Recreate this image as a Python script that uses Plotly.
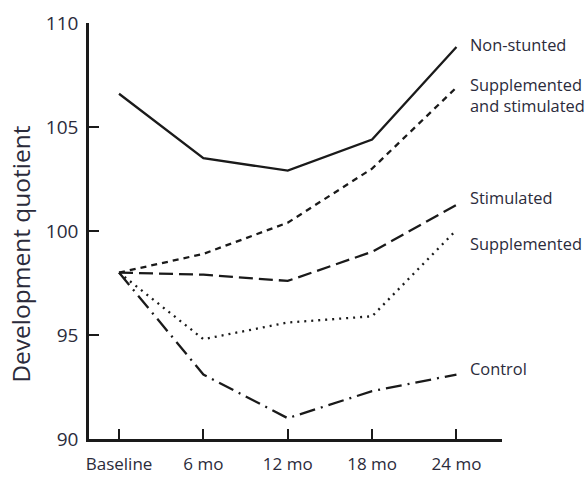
import plotly.graph_objects as go

timepoints = ["Baseline", "6 mo", "12 mo", "18 mo", "24 mo"]
non_stunted = [106.6, 103.5, 102.9, 104.4, 108.85]
supp_stim = [98.0, 98.9, 100.4, 103.0, 106.9]
stimulated = [98.0, 97.9, 97.6, 99.0, 101.25]
supplemented = [98.0, 94.8, 95.6, 95.9, 100.05]
control = [98.0, 93.1, 91.0, 92.3, 93.1]
labels = ["Non-stunted", "Supplemented<br>and stimulated", "Stimulated", "Supplemented", "Control"]
label_pos = [108.99, 106.54, 101.63, 99.42, 93.37]

dashes = ["solid", "6px,5px", "14px,6px", "2px,5px", "16px,6px,2px,6px"]
all_vals = [non_stunted, supp_stim, stimulated, supplemented, control]

TXT = "#2b2b3b"
FONT = "Open Sans"

xs = list(range(len(timepoints)))
fig = go.Figure()
for name, vals, dash in zip(labels, all_vals, dashes):
    fig.add_trace(go.Scatter(x=xs, y=vals, mode="lines", name=name.replace("<br>", " "),
                             line=dict(color="#1a1a1a", width=2.3, dash=dash),
                             showlegend=False, hoverinfo="skip"))

for name, ly in zip(labels, label_pos):
    fig.add_annotation(x=4.14, y=ly, xref="x", yref="y", text=name, showarrow=False,
                       xanchor="left", yanchor="middle", align="left",
                       font=dict(family=FONT, size=16.4, color=TXT))

fig.add_annotation(x=-0.165, y=0.445, xref="paper", yref="paper", text="Development quotient",
                   textangle=-90, showarrow=False, xanchor="center", yanchor="middle",
                   font=dict(family=FONT, size=24.5, color=TXT))

fig.update_layout(
    width=587, height=477,
    margin=dict(l=89, r=85, t=23, b=38, autoexpand=False),
    paper_bgcolor="white", plot_bgcolor="white",
    font=dict(family=FONT, color=TXT),
)
fig.update_xaxes(
    range=[-0.356, 4.54], tickmode="array", tickvals=xs, ticktext=timepoints,
    showline=True, linecolor="#1a1a1a", linewidth=2.5, showgrid=False, zeroline=False,
    ticks="inside", ticklen=10, tickwidth=2, tickcolor="#1a1a1a", automargin=False,
    tickfont=dict(size=17, family=FONT, color=TXT), ticklabelstandoff=8,
)
fig.update_yaxes(
    range=[90, 110], tickvals=[90, 95, 100, 105, 110],
    showline=True, linecolor="#1a1a1a", linewidth=2.5, showgrid=False, zeroline=False,
    ticks="inside", ticklen=10, tickwidth=2, tickcolor="#1a1a1a", automargin=False,
    tickfont=dict(size=19, family=FONT, color=TXT), ticklabelstandoff=4,
)
fig.write_html("out.html", config={"displayModeBar": False},
               post_script="document.body.style.margin='0px';")
